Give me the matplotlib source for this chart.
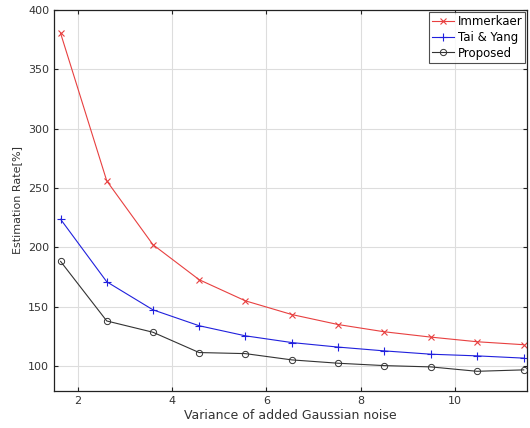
import matplotlib
matplotlib.use("Agg")
import matplotlib.pyplot as plt

# noise variance (x) and estimation rate [%] for each method
variance = [1.63, 2.61, 3.59, 4.57, 5.55, 6.54, 7.52, 8.50, 9.49, 10.47, 11.46]
immerkaer = [380.4, 256.0, 202.3, 172.8, 155.0, 143.4, 135.0, 128.9, 124.4, 120.5, 118.0]
tai_yang = [223.7, 171.0, 147.4, 134.0, 125.5, 119.8, 116.0, 112.8, 110.0, 108.6, 106.7]
proposed = [188.2, 138.0, 128.5, 111.4, 110.5, 105.2, 102.4, 100.4, 99.3, 95.6, 96.8]

x_ticks = [2, 4, 6, 8, 10]
y_ticks = [100, 150, 200, 250, 300, 350, 400]

plt.rcParams["font.family"] = ["DejaVu Sans"]
plt.rcParams["font.size"] = 8

fig = plt.figure(figsize=(5.30, 4.28), dpi=100)
ax = fig.add_axes([54 / 530, 1 - 391 / 428, 473 / 530, 381 / 428])

ax.plot(variance, immerkaer, color="#e84040", marker="x", markersize=5,
        linewidth=0.8, markeredgewidth=0.8, label="Immerkaer")
ax.plot(variance, tai_yang, color="#2020dd", marker="+", markersize=6,
        linewidth=0.8, markeredgewidth=0.8, label="Tai & Yang")
ax.plot(variance, proposed, color="#333333", marker="o", markersize=4.5,
        markerfacecolor="none", linewidth=0.8, markeredgewidth=0.7,
        label="Proposed")

ax.set_xlim(1.49, 11.53)
ax.set_ylim(79, 400)
ax.set_xticks(x_ticks)
ax.set_yticks(y_ticks)
ax.grid(True, color="#dddddd", linewidth=0.8)
ax.set_axisbelow(True)
ax.tick_params(direction="in", length=3, top=True, right=True,
               colors="#222222", labelcolor="#333333")
for s in ax.spines.values():
    s.set_linewidth(0.9)
    s.set_color("#222222")

ax.set_xlabel("Variance of added Gaussian noise", fontsize=9, color="#333333",
              labelpad=2)
ax.set_ylabel("Estimation Rate[%]", fontsize=8, color="#333333")

leg = ax.legend(loc="upper right", fontsize=8.5, frameon=True, fancybox=False,
                edgecolor="#222222", borderpad=0.25, labelspacing=0.25,
                handlelength=1.9, handletextpad=0.3, borderaxespad=0.15)
leg.get_frame().set_linewidth(0.8)

fig.savefig("out.png", dpi=100)
